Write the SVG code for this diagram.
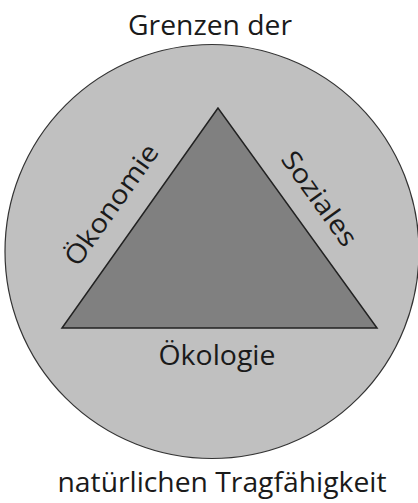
<svg xmlns="http://www.w3.org/2000/svg" width="418" height="503" viewBox="0 0 418 503">
<style>
text{font-family:"Open Sans","Liberation Sans",sans-serif;font-size:26.5px;fill:#1a1a1a;text-anchor:middle}
</style>
<rect width="418" height="503" fill="#ffffff"/>
<g id="circle"><circle cx="212" cy="251.5" r="207" fill="#c0c0c0" stroke="#333333" stroke-width="1.2"/></g>
<g id="triangle"><polygon points="218,108 62,328 377,328" fill="#808080" stroke="#222222" stroke-width="1.5"/></g>
<g id="labels">
<text x="210" y="35" textLength="164" lengthAdjust="spacingAndGlyphs">Grenzen der</text>
<text x="222" y="492" textLength="329" lengthAdjust="spacingAndGlyphs">natürlichen Tragfähigkeit</text>
<text x="217" y="365" textLength="117" lengthAdjust="spacingAndGlyphs">Ökologie</text>
<text transform="translate(119,210) rotate(-54.7)" x="0" y="0" textLength="142" lengthAdjust="spacingAndGlyphs">Ökonomie</text>
<text transform="translate(312,204) rotate(54.3)" x="0" y="0" textLength="110" lengthAdjust="spacingAndGlyphs">Soziales</text>
</g>
</svg>
